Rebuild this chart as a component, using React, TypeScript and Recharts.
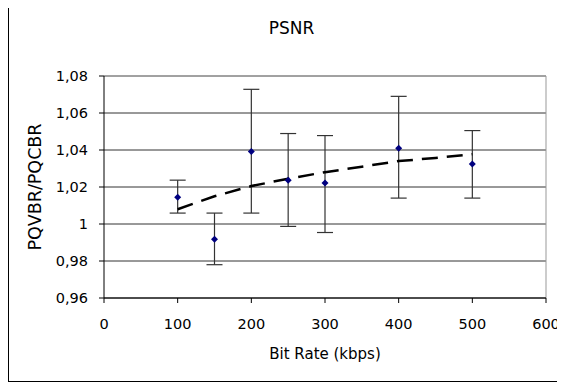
import React from "react";
import {
  ScatterChart, Scatter, XAxis, YAxis, CartesianGrid, ErrorBar, ReferenceLine,
} from "recharts";

// bit rates (kbps) and the PQVBR/PQCBR ratio
const bitRates = [100, 150, 200, 250, 300, 400, 500];
const ratio = [1.0145, 0.9917, 1.0392, 1.0237, 1.0221, 1.041, 1.0325];
const upper = [1.0237, 1.0059, 1.0728, 1.0489, 1.0478, 1.069, 1.0505];
const lower = [1.0059, 0.978, 1.0059, 0.9987, 0.9954, 1.014, 1.014];

// dashed trend line
const trendX = [100, 150, 200, 250, 300, 350, 400, 450, 500];
const trendY = [1.008, 1.015, 1.0205, 1.0245, 1.028, 1.031, 1.034, 1.0357, 1.0377];

const xTicks = [0, 100, 200, 300, 400, 500, 600];
const yTicks = [0.96, 0.98, 1, 1.02, 1.04, 1.06, 1.08];

const points = bitRates.map((x, i) => ({
  x, y: ratio[i], err: [ratio[i] - lower[i], upper[i] - ratio[i]],
}));
const trend = trendX.map((x, i) => ({ x, y: trendY[i] }));

const FONT = "'DejaVu Sans', sans-serif";
const tickStyle = { fontSize: 14.5, fill: "#000", fontFamily: FONT };

const fmtY = (v: number) => (Math.abs(v - 1) < 1e-9 ? "1" : v.toFixed(2).replace(".", ","));

function Diamond(props: any) {
  const { cx, cy } = props;
  if (cx == null || cy == null) return null;
  const r = 3.5;
  return <polygon points={`${cx},${cy - r} ${cx + r},${cy} ${cx},${cy + r} ${cx - r},${cy}`} fill="#000080" />;
}

export default function App() {
  return (
    <div style={{
      position: "relative", width: 554, height: 377, marginTop: -3,
      border: "1px solid #000", boxSizing: "border-box", background: "#fff", fontFamily: FONT,
    }}>
      <div style={{ position: "absolute", left: 182.5, top: 12, width: 200, textAlign: "center", fontSize: 17, lineHeight: "20px" }}>
        PSNR
      </div>
      <div style={{
        position: "absolute", left: 26 - 100, top: 180.5 - 11, width: 200, height: 22, lineHeight: "22px",
        textAlign: "center", fontSize: 17.5, transform: "rotate(-90deg)",
      }}>
        PQVBR/PQCBR
      </div>
      <div style={{ position: "absolute", left: 316 - 100, top: 338, width: 200, textAlign: "center", fontSize: 15, lineHeight: "20px" }}>
        Bit Rate (kbps)
      </div>
      <ScatterChart width={552} height={375} margin={{ top: 70, right: 15, bottom: 43, left: 0 }}>
        <CartesianGrid horizontal vertical={false} stroke="#333" />
        <ReferenceLine y={1.08} stroke="#aaa" />
        <ReferenceLine x={600} stroke="#999" />
        <XAxis type="number" dataKey="x" domain={[0, 600]} ticks={xTicks} height={40}
          tick={tickStyle} tickSize={5} tickMargin={16} stroke="#000" />
        <YAxis type="number" dataKey="y" domain={[0.96, 1.08]} ticks={yTicks} width={95}
          tickFormatter={fmtY} tick={tickStyle} tickSize={5} tickMargin={11} stroke="#000" allowDataOverflow />
        <Scatter data={trend} shape={() => <g />} isAnimationActive={false}
          line={{ stroke: "#000", strokeWidth: 2.5, strokeDasharray: "16 9" }} lineType="joint" />
        <Scatter data={points} shape={Diamond} isAnimationActive={false}>
          <ErrorBar dataKey="err" direction="y" width={8} stroke="#333" strokeWidth={1.2} isAnimationActive={false} />
        </Scatter>
      </ScatterChart>
    </div>
  );
}
